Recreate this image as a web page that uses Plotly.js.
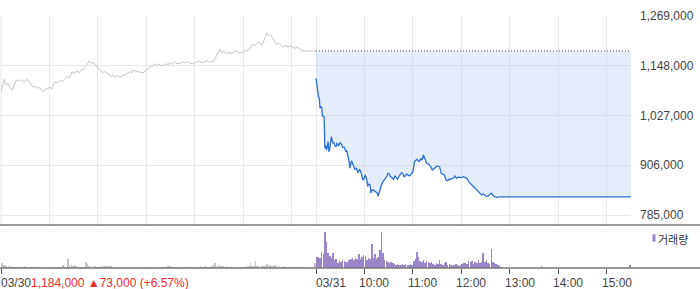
<!DOCTYPE html>
<html>
<head>
<meta charset="utf-8">
<script src="https://cdn.plot.ly/plotly-3.0.1.min.js"></script>
<style>html,body{margin:0;padding:0;background:#fff;}#chart{width:700px;height:289px;}</style>
</head>
<body>
<div id="chart"></div>
<script>
// ---- DATA ----
// minutes since 09:00 on each session day
const day1Min = [0,2,4,5,7,9,11,14,16,19,22,24,26,29,31,34,37,40,43,45,48,52,55,58,61,63,65,67,70,73,76,79,82,85,88,91,94,96,98,100,102,104,107,109,112,115,118,121,123,126,128,131,134,137,139,141,144,147,151,154,157,160,162,164,167,170,173,176,179,182,185,188,191,194,196,199,202,205,207,209,212,215,218,222,225,228,231,234,238,241,244,246,249,252,255,258,261,263,266,268,271,273,276,279,282,285,288,291,294,296,298,301,304,306,309,312,314,317,319,321,323,326,329,331,334,336,339,341,344,347,350,353,355,358,361,364,367,370,372,375,390];
const day1Price = [1085000,1098000,1115000,1108000,1101000,1104000,1095000,1089000,1100000,1113000,1110000,1114000,1112000,1109000,1114000,1113000,1103000,1096000,1098000,1093000,1095000,1085000,1090000,1094000,1096000,1091000,1104000,1109000,1106000,1112000,1110000,1115000,1122000,1119000,1133500,1129000,1136000,1131000,1133500,1139000,1137000,1145700,1152000,1159600,1154000,1156000,1149800,1141000,1136000,1131000,1135000,1129600,1126000,1122000,1126000,1119900,1124000,1120000,1123100,1127000,1130000,1134000,1131000,1137700,1135000,1133000,1132000,1131100,1136000,1140000,1146000,1148000,1152300,1149000,1151000,1147400,1149000,1153000,1150000,1156400,1152000,1157000,1153000,1154000,1157000,1155000,1158000,1154000,1152300,1156000,1158000,1159600,1155000,1158000,1160000,1156000,1159000,1157900,1168000,1178000,1188000,1181000,1184000,1176600,1180000,1178000,1182200,1185000,1179000,1181000,1178300,1182000,1186000,1184600,1193000,1200200,1196000,1203000,1206500,1201000,1198500,1212000,1226900,1221000,1222800,1216000,1208000,1200200,1203000,1197000,1194300,1198000,1193000,1196000,1194000,1190400,1193000,1187000,1185000,1184000,1184000];

const day2Min = [0,1,2,3,4,5,6,7,8,10,11,12,13,14,15,16,17,18,19,20,21,22,23,25,26,27,28,29,30,32,33,35,37,38,40,41,42,43,44,45,46,47,48,50,51,52,53,54,56,57,58,60,61,63,64,65,67,68,69,71,72,74,76,77,79,81,83,84,86,88,89,91,92,94,96,98,99,101,103,105,106,108,109,111,112,114,116,118,120,122,124,125,127,128,130,131,133,135,137,139,141,142,144,146,147,150,153,155,157,159,161,163,165,167,169,171,172,174,176,178,180,182,184,187,189,191,193,195,197,199,201,203,205,207,209,211,213,215,217,219,221,224,227,390];
const day2Price = [1117500,1095000,1089000,1072700,1070000,1044500,1048400,1047000,1025800,1024100,947200,955000,943100,951000,963300,939000,945000,960000,975500,968000,959400,962000,955000,951100,959400,958000,952800,957000,960900,955000,949700,949700,939000,942000,925400,915000,898600,905000,917100,912000,906600,900000,896200,898600,893000,887900,892000,896200,886400,878000,870200,875000,882300,870000,853900,860000,858000,837800,845000,845800,844000,841700,838000,831200,847500,858000,866000,870200,874300,880000,886400,884000,878200,876000,871900,879900,876000,871900,879900,884000,887900,884000,878200,881000,884700,882000,879900,885000,890300,914700,918000,920500,916000,914700,922900,918000,931000,920500,910800,909100,905000,902500,894500,898000,901000,904200,902500,886400,884000,882300,870200,868500,872000,871900,874300,876000,879900,874300,877000,876700,876000,878200,877000,874300,866000,862000,858000,853000,850000,846000,841700,838000,833700,836000,833700,830000,831200,834000,838000,833000,829500,828100,829000,829000];

const prevClose = 1184000;

// volume, 2-minute buckets from 09:00
const vol1 = [4700,3500,3000,2000,2000,1500,2000,1500,1500,1000,1500,1000,1000,1500,2000,1000,1000,1500,1000,1000,1500,1000,1000,1000,500,0,1000,0,1000,1000,500,1000,1500,1000,1000,1500,1000,1000,3000,1000,500,9000,3500,3000,2500,3000,2000,1500,1500,1000,1500,1000,6300,4500,2000,1500,2000,1500,2000,1500,1500,2000,1000,2000,2500,2000,1500,2000,2000,1000,1000,500,1000,0,1000,500,1000,1000,500,1000,1000,500,1500,1500,1000,500,0,500,0,500,1000,1500,1000,1500,1000,1000,500,1000,500,1000,1000,1500,1000,2500,2000,1000,1000,500,1000,500,1000,1000,1000,1500,1000,500,1000,1000,500,1000,1000,1500,1500,2000,1500,1000,2000,1500,1000,1500,2000,3000,4700,2500,3000,2000,2500,2000,1500,2000,1000,1000,1500,1000,1000,500,1000,1500,1000,1000,1000,1500,2000,2000,4700,2000,2500,7000,2500,2000,1500,2000,2000,2500,4000,2500,3000,2500,2000,3000,2000,1500,2000,1500,1500,2000,1500,1500,1500,1000,1500,1000,1500,1500,1000,1000,1500,1000,1000,500,0,0,500,0,4700];
const vol2 = [11000,11000,10000,16000,14000,36000,26000,15000,12000,10000,15000,8000,9000,5000,7000,6000,8000,7000,6000,6000,8000,9000,10000,8000,10000,9000,14000,9000,11000,13000,12000,8000,10000,9000,24000,10000,14000,9000,11000,18000,36000,15000,8000,7000,6000,5000,6000,5000,4000,3000,4000,3000,3000,4000,3000,4000,3000,3000,4000,3000,7000,9000,16000,11000,7000,6000,8000,5000,7000,6000,5000,6000,4000,3000,5000,4000,8000,4000,3000,5000,6000,3000,4000,3000,2000,3000,4000,3000,2000,3000,4000,5000,5000,4000,7000,6000,7000,4000,6000,5000,8000,5000,6000,15000,6000,8000,5000,4000,19000,6000,5000,4000,3000,2000,1000];
const vol2LateIdx = [139,194];
const vol2LateVal = [2000,3000];

const yTicks = [785000,906000,1027000,1148000,1269000];
const gridMin = [0,60,120,180,240,300,360,390,450,510,570,630,690,750];
const timeTicks = [450,510,570,630,690,750];
const timeLabels = ['10:00','11:00','12:00','13:00','14:00','15:00'];
const dateLabels = ['03/30','03/31'];
const changeText = '1,184,000 ▲73,000 (+6.57%)';
const volLegend = '거래량';

// ---- BUILD ----
const W = 700, H = 289;
const mL = 1, mR = 69, mT = 16, mB = 21;
const plotW = W - mL - mR, plotH = H - mT - mB;
const px2fx = p => (p - mL) / plotW;
const py2fy = p => (H - mB - p) / plotH;

const vol1X = vol1.map((v, i) => 2 * i + 1);
const vol2X = vol2.map((v, i) => 390 + 2 * i + 1).concat(vol2LateIdx.map(i => 390 + 2 * i + 1));
const vol2Y = vol2.concat(vol2LateVal);

const traces = [
  {x: day1Min, y: day1Price, type: 'scatter', mode: 'lines', xaxis: 'x', yaxis: 'y',
   line: {color: '#c4c4c8', width: 1}, hoverinfo: 'skip'},
  {x: [390, 780], y: [prevClose, prevClose], type: 'scatter', mode: 'lines', xaxis: 'x', yaxis: 'y',
   line: {color: '#444444', width: 1, dash: '1px,2px'}, hoverinfo: 'skip'},
  {x: day2Min.map(m => 390 + m), y: day2Price, type: 'scatter', mode: 'lines', xaxis: 'x', yaxis: 'y',
   fill: 'tonexty', fillcolor: 'rgba(190,210,242,0.4)',
   line: {color: '#2f70d8', width: 1.3}, hoverinfo: 'skip'},
  {x: vol1X, y: vol1, type: 'bar', xaxis: 'x2', yaxis: 'y2', width: 1.9,
   marker: {color: '#c4c4c8', line: {width: 0}}, hoverinfo: 'skip'},
  {x: vol2X, y: vol2Y, type: 'bar', xaxis: 'x2', yaxis: 'y2', width: 1.9,
   marker: {color: '#9a86c8', line: {width: 0}}, hoverinfo: 'skip'}
];

const splitY = py2fy(225);
const fnt = {family: 'Liberation Sans, Arial, sans-serif', size: 12, color: '#444'};

const annotations = [];
annotations.push({xref: 'x2', yref: 'paper', x: 0, y: 0, yshift: -15, xanchor: 'left', yanchor: 'middle',
  xshift: -1, showarrow: false, borderpad: 0, font: fnt,
  text: dateLabels[0] + '<span style="color:#f02b2b">' + changeText + '</span>'});
annotations.push({xref: 'x2', yref: 'paper', x: 390, y: 0, yshift: -15, xanchor: 'left', yanchor: 'middle',
  xshift: -1, showarrow: false, borderpad: 0, font: fnt, text: dateLabels[1]});
timeTicks.forEach((t, i) => annotations.push({xref: 'x2', yref: 'paper', x: t, y: 0, yshift: -15,
  xanchor: 'left', yanchor: 'middle', xshift: -6, showarrow: false, borderpad: 0, font: fnt, text: timeLabels[i]}));
annotations.push({xref: 'paper', yref: 'paper', x: px2fx(657), y: py2fy(238.5), xanchor: 'left', yanchor: 'middle',
  showarrow: false, borderpad: 0, font: {family: 'Noto Sans CJK KR, sans-serif', size: 11, color: '#333'}, text: volLegend});

const shapes = [
  {type: 'line', xref: 'paper', yref: 'paper', x0: px2fx(1), x1: px2fx(1), y0: splitY, y1: 1,
   line: {color: '#e8e8e8', width: 1}, layer: 'below'},
  {type: 'line', xref: 'paper', yref: 'paper', x0: px2fx(0), x1: px2fx(700), y0: splitY, y1: splitY,
   line: {color: '#777', width: 1.5}},
  {type: 'line', xref: 'paper', yref: 'paper', x0: px2fx(0), x1: px2fx(700), y0: 0, y1: 0,
   line: {color: '#777', width: 1.5}},
  {type: 'rect', xref: 'paper', yref: 'paper', x0: px2fx(652.5), x1: px2fx(655.5), y0: py2fy(241.7), y1: py2fy(234.3),
   fillcolor: '#9a86c8', line: {width: 0}}
];

const layout = {
  width: W, height: H,
  margin: {l: mL, r: mR, t: mT, b: mB, pad: 0},
  paper_bgcolor: '#fff', plot_bgcolor: '#fff',
  showlegend: false, bargap: 0,
  font: fnt,
  xaxis: {domain: [0, 1], range: [0, 780], anchor: 'y', tickmode: 'array', tickvals: gridMin,
    showticklabels: false, ticks: '', showgrid: true, gridcolor: '#e8e8e8', gridwidth: 1,
    zeroline: false, showline: false, fixedrange: true},
  xaxis2: {domain: [0, 1], range: [0, 780], anchor: 'y2', tickmode: 'array', tickvals: [0].concat([390], timeTicks),
    showticklabels: false, ticks: 'outside', ticklen: 5, tickcolor: '#555', tickwidth: 1,
    showgrid: false, zeroline: false, showline: false, fixedrange: true},
  yaxis: {domain: [splitY, 1], range: [760680, 1269000], anchor: 'x', side: 'right',
    tickmode: 'array', tickvals: yTicks, ticktext: yTicks.map(v => v.toLocaleString('en-US')),
    ticks: '', ticklabelstandoff: 8, showgrid: true, gridcolor: '#e8e8e8', gridwidth: 1,
    zeroline: false, showline: false, tickfont: fnt, fixedrange: true},
  yaxis2: {domain: [0, py2fy(226)], range: [0, 42000], anchor: 'x2', showticklabels: false,
    showgrid: false, zeroline: false, showline: false, ticks: '', fixedrange: true},
  shapes: shapes,
  annotations: annotations
};

Plotly.newPlot('chart', traces, layout, {staticPlot: true, displayModeBar: false});
</script>
</body>
</html>
